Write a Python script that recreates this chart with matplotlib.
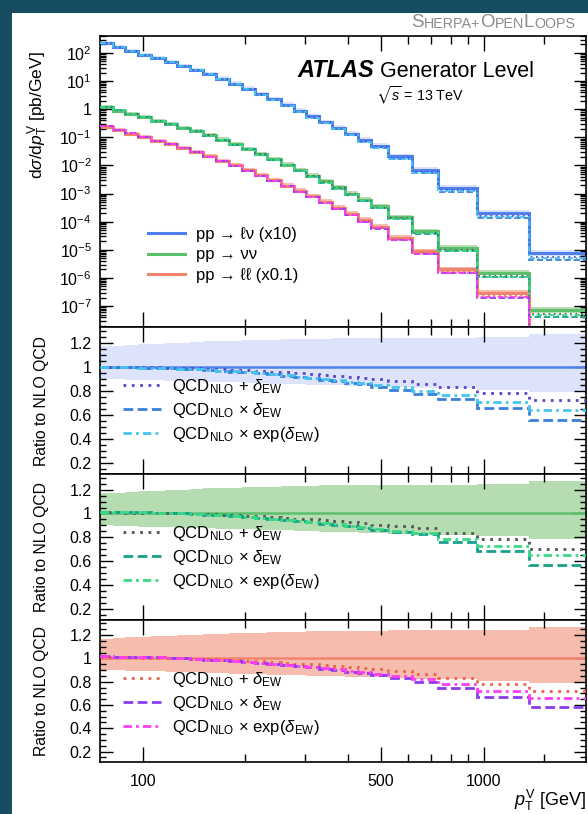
import numpy as np
import matplotlib
matplotlib.use("Agg")
import matplotlib.pyplot as plt
from matplotlib.ticker import FixedLocator, FuncFormatter, MultipleLocator, LogLocator, NullFormatter
from matplotlib.lines import Line2D
from matplotlib.patches import Rectangle

plt.rcParams['font.family'] = ['Liberation Sans', 'DejaVu Sans']
plt.rcParams['mathtext.fontset'] = 'custom'
plt.rcParams['mathtext.rm'] = 'Liberation Sans'
plt.rcParams['mathtext.it'] = 'Liberation Sans:italic'
plt.rcParams['mathtext.bf'] = 'Liberation Sans:bold'
plt.rcParams['mathtext.fallback'] = 'stixsans'

# pT^V bin edges [GeV]
pt_edges = [75, 82, 89, 97, 106, 116, 126, 138, 150, 164, 179, 195, 213, 232, 254,
            277, 302, 330, 360, 393, 429, 468, 525, 615, 736, 954, 1360, 2000]

# NLO QCD dsigma/dpT [pb/GeV]
xs_lnu = [219, 158, 117, 87.1, 64.6, 47.9, 34.7, 25.1, 17.8, 12.0, 8.13, 5.37, 3.47, 2.24,
          1.41, 0.871, 0.550, 0.347, 0.219, 0.135, 0.0813, 0.0490, 0.0209, 0.00692,
          0.00158, 2.04e-4, 7.76e-6]                                   # x10
xs_nunu = [1.175, 0.891, 0.676, 0.513, 0.389, 0.295, 0.219, 0.162, 0.117, 0.0813, 0.0562,
           0.0380, 0.0251, 0.0166, 0.0107, 0.00676, 0.00427, 0.00269, 0.00166, 0.00100,
           6.03e-4, 3.47e-4, 1.45e-4, 4.57e-5, 1.17e-5, 1.51e-6, 7.2e-8]
xs_ll = [0.240, 0.178, 0.135, 0.102, 0.0759, 0.0562, 0.0407, 0.0295, 0.0209, 0.0145, 0.0100,
         0.00676, 0.00447, 0.00295, 0.00191, 0.00123, 7.94e-4, 5.01e-4, 3.16e-4, 1.91e-4,
         1.15e-4, 6.61e-5, 2.69e-5, 8.91e-6, 2.00e-6, 2.95e-7, 1.26e-8]  # x0.1

# scale uncertainty band, relative to NLO QCD
scale_up = [1.17, 1.175, 1.18, 1.185, 1.19, 1.195, 1.20, 1.205, 1.21, 1.213, 1.216, 1.219,
            1.222, 1.225, 1.228, 1.23, 1.232, 1.234, 1.236, 1.237, 1.238, 1.239, 1.240,
            1.241, 1.242, 1.243, 1.27]
scale_dn = [0.90, 0.897, 0.894, 0.891, 0.888, 0.885, 0.882, 0.879, 0.876, 0.873, 0.870,
            0.867, 0.864, 0.861, 0.858, 0.855, 0.852, 0.849, 0.846, 0.843, 0.840, 0.836,
            0.832, 0.827, 0.820, 0.810, 0.790]

# EW-corrected predictions / NLO QCD
lnu_add = [0.997, 0.997, 0.996, 0.995, 0.994, 0.992, 0.989, 0.986, 0.983, 0.979, 0.975,
           0.971, 0.966, 0.960, 0.954, 0.947, 0.941, 0.933, 0.925, 0.917, 0.908, 0.897,
           0.882, 0.861, 0.831, 0.786, 0.722]
lnu_mult = [0.995, 0.995, 0.994, 0.992, 0.990, 0.987, 0.983, 0.978, 0.973, 0.967, 0.960,
            0.953, 0.945, 0.936, 0.926, 0.916, 0.905, 0.893, 0.880, 0.867, 0.853, 0.835,
            0.811, 0.777, 0.730, 0.657, 0.556]
lnu_exp = [0.995, 0.995, 0.994, 0.992, 0.990, 0.987, 0.983, 0.978, 0.973, 0.968, 0.961,
           0.954, 0.946, 0.938, 0.929, 0.919, 0.909, 0.899, 0.887, 0.875, 0.863, 0.848,
           0.828, 0.800, 0.763, 0.710, 0.641]

nunu_add = [1.010, 1.010, 1.008, 1.007, 1.005, 1.003, 1.000, 0.997, 0.993, 0.989, 0.985,
            0.980, 0.975, 0.969, 0.963, 0.957, 0.950, 0.943, 0.935, 0.927, 0.918, 0.908,
            0.895, 0.881, 0.839, 0.786, 0.707]
nunu_mult = [1.015, 1.014, 1.012, 1.010, 1.007, 1.004, 1.000, 0.995, 0.990, 0.984, 0.978,
             0.971, 0.963, 0.955, 0.946, 0.937, 0.927, 0.916, 0.905, 0.893, 0.880, 0.865,
             0.845, 0.825, 0.764, 0.686, 0.569]
nunu_exp = [1.015, 1.014, 1.012, 1.010, 1.007, 1.004, 1.000, 0.995, 0.990, 0.984, 0.978,
            0.971, 0.964, 0.956, 0.947, 0.939, 0.930, 0.919, 0.909, 0.899, 0.887, 0.874,
            0.856, 0.839, 0.790, 0.731, 0.650]

ll_add = [1.012, 1.011, 1.009, 1.007, 1.005, 1.003, 1.000, 0.997, 0.993, 0.989, 0.985,
          0.980, 0.975, 0.969, 0.963, 0.956, 0.949, 0.941, 0.933, 0.925, 0.915, 0.905,
          0.890, 0.867, 0.833, 0.780, 0.720]
ll_mult = [1.018, 1.016, 1.014, 1.011, 1.008, 1.004, 1.000, 0.995, 0.990, 0.984, 0.977,
           0.970, 0.962, 0.953, 0.944, 0.934, 0.923, 0.912, 0.900, 0.887, 0.873, 0.857,
           0.835, 0.800, 0.750, 0.670, 0.580]
ll_exp = [1.018, 1.016, 1.014, 1.011, 1.008, 1.004, 1.000, 0.995, 0.990, 0.984, 0.977,
          0.970, 0.963, 0.954, 0.945, 0.936, 0.926, 0.916, 0.905, 0.893, 0.881, 0.867,
          0.848, 0.819, 0.779, 0.719, 0.657]

samples = [
    # label, xs, (add, mult, exp), nlo colour, band colour, (dot, dash, dashdot) colours
    ("pp \u2192 \u2113\u03bd (x10)", xs_lnu, (lnu_add, lnu_mult, lnu_exp),
     "#4f80ee", "#dce3fa", ("#5646c9", "#3a7fd9", "#45c4f0")),
    ("pp \u2192 \u03bd\u03bd", xs_nunu, (nunu_add, nunu_mult, nunu_exp),
     "#5cbf6c", "#b6dcb1", ("#555555", "#17a08a", "#3ad985")),
    ("pp \u2192 \u2113\u2113 (x0.1)", xs_ll, (ll_add, ll_mult, ll_exp),
     "#f2836e", "#f6bcae", ("#ef604c", "#8c3cf0", "#ff3df2")),
]
ew_labels = [r"QCD$_{\mathrm{NLO}}$ + $\delta_{\mathrm{EW}}$",
             r"QCD$_{\mathrm{NLO}}$ $\times$ $\delta_{\mathrm{EW}}$",
             r"QCD$_{\mathrm{NLO}}$ $\times$ exp($\delta_{\mathrm{EW}}$)"]
ew_styles = [(0, (1, 2)), (0, (3.5, 1.6)), (0, (3, 1.5, 1, 1.5))]

edges = np.array(pt_edges)
up = np.array(scale_up)
dn = np.array(scale_dn)

W, H = 588, 814
fig = plt.figure(figsize=(W / 100, H / 100), dpi=100)
fig.patch.set_facecolor("#164d60")
fig.add_artist(Rectangle((12 / W, 0), 1, 1 - 13 / H, transform=fig.transFigure,
                         facecolor="white", edgecolor="none", zorder=-10))

left, width = 100 / W, 486.3 / W
def px_axes(top, bottom):
    return fig.add_axes([left, 1 - bottom / H, width, (bottom - top) / H])

ax_top = px_axes(36, 327)
ratio_axes = [px_axes(327, 474), px_axes(474, 620), px_axes(620, 762)]

def style_x(ax, labels):
    ax.set_xscale("log")
    ax.set_xlim(75, 2000)
    ax.xaxis.set_major_locator(FixedLocator([100, 500, 1000]))
    ax.xaxis.set_minor_locator(FixedLocator([200, 300, 400, 600, 700, 800, 900, 1500]))
    ax.xaxis.set_minor_formatter(NullFormatter())
    if labels:
        ax.xaxis.set_major_formatter(FuncFormatter(lambda v, p: "%d" % v))
    else:
        ax.xaxis.set_major_formatter(NullFormatter())
    ax.tick_params(axis="x", which="major", direction="in", top=True, length=11, width=1.0,
                   labelsize=11.5, pad=9)
    ax.tick_params(axis="x", which="minor", direction="in", top=True, length=5.5, width=1.0)
    ax.tick_params(axis="y", which="major", direction="in", right=True, length=9, width=1.0,
                   labelsize=11.5, pad=6)
    ax.tick_params(axis="y", which="minor", direction="in", right=True, length=4.5, width=1.0)
    for s in ax.spines.values():
        s.set_linewidth(1.2)

# ---- top panel
for label, xs, ew, col, bcol, ecols in samples:
    nlo = np.array(xs)
    ax_top.stairs(nlo * up, edges, baseline=nlo * dn, fill=True, color=bcol, lw=0, zorder=1)
    ax_top.stairs(nlo, edges, baseline=None, color=col, lw=2.2, zorder=2)
    for r, c, ls in zip(ew, ecols, ew_styles):
        ax_top.stairs(nlo * np.array(r), edges, baseline=None, color=c, ls=ls, lw=1.3, zorder=3)

style_x(ax_top, False)
ax_top.set_yscale("log")
ax_top.set_ylim(1.8e-8, 4e2)
ax_top.yaxis.set_major_locator(FixedLocator([10.0 ** e for e in range(-7, 3)]))
ax_top.yaxis.set_major_formatter(FuncFormatter(
    lambda v, p: "1" if abs(v - 1) < 1e-9 else r"$10^{%d}$" % round(np.log10(v))))
ax_top.yaxis.set_minor_locator(LogLocator(base=10, subs=np.arange(2, 10), numticks=50))
ax_top.yaxis.set_minor_formatter(NullFormatter())
ax_top.set_ylabel(r"d$\sigma$/d$p_{\mathrm{T}}^{\mathrm{V}}$ [pb/GeV]", fontsize=12.5)
ax_top.yaxis.set_label_coords(-0.103, 0.729)

handles = [Line2D([], [], color=s[3], lw=2.2) for s in samples]
ax_top.legend(handles, [s[0] for s in samples], loc="upper left", bbox_to_anchor=(0.099, 0.345),
              frameon=False, fontsize=12, handlelength=2.2, handletextpad=0.7,
              labelspacing=0.35, borderpad=0, borderaxespad=0)

atlas = fig.text(297 / W, 1 - 77 / H, "ATLAS", fontsize=17, fontweight="bold",
                 fontstyle="italic", va="baseline")
ax_top.annotate(" Generator Level", xy=(1, 0), xycoords=atlas, fontsize=15.5,
                ha="left", va="bottom", annotation_clip=False)
fig.text(376 / W, 1 - 101 / H, r"$\sqrt{s}$ = 13 TeV", fontsize=10.3, va="baseline")

# Sherpa+OpenLoops in small caps, chained piece by piece
sc_parts = [("S", 13.5), ("HERPA+", 10.3), ("O", 13.5), ("PEN", 10.3), ("L", 13.5), ("OOPS", 10.3)]
prev = fig.text(411 / W, 1 - 31 / H, sc_parts[0][0], fontsize=sc_parts[0][1],
                color="#8c8c8c", va="bottom")
for txt, fs in sc_parts[1:]:
    prev = ax_top.annotate(txt, xy=(1, 0), xycoords=prev, fontsize=fs, color="#8c8c8c",
                           ha="left", va="bottom", annotation_clip=False)

# ---- ratio panels
for ax, (label, xs, ew, col, bcol, ecols) in zip(ratio_axes, samples):
    nlo = np.array(xs)
    ax.stairs(up, edges, baseline=dn, fill=True, color=bcol, lw=0, zorder=1)
    ax.stairs(nlo / nlo, edges, baseline=None, color=col, lw=1.8, zorder=2)
    for r, c, ls in zip(ew, ecols, ew_styles):
        ax.stairs(r, edges, baseline=None, color=c, ls=ls, lw=2.0, zorder=3)
    style_x(ax, ax is ratio_axes[-1])
    ax.set_ylim(0.11, 1.33)
    ax.yaxis.set_major_locator(MultipleLocator(0.2))
    ax.yaxis.set_minor_locator(MultipleLocator(0.05))
    ax.yaxis.set_major_formatter(FuncFormatter(
        lambda v, p: "1" if abs(v - 1) < 1e-6 else ("%.1f" % v if v > 0.1 else "")))
    ax.set_ylabel("Ratio to NLO QCD", fontsize=11.3)
    ax.yaxis.set_label_coords(-0.105, 0.5)
    hs = [Line2D([], [], color=c, ls=ls, lw=2.0) for c, ls in zip(ecols, ew_styles)]
    ax_h = ax.get_position().height * H
    ax.legend(hs, ew_labels, loc="upper left", bbox_to_anchor=(0.047, 1 - 50 / ax_h),
              frameon=False, fontsize=12, handlelength=2.3, handletextpad=0.65,
              labelspacing=0.3, borderpad=0, borderaxespad=0)

ratio_axes[-1].set_xlabel(r"$p_{\mathrm{T}}^{\mathrm{V}}$ [GeV]", fontsize=13, ha="right")
ratio_axes[-1].xaxis.set_label_coords(1.0, -0.18)

fig.savefig("out.png", dpi=100)
